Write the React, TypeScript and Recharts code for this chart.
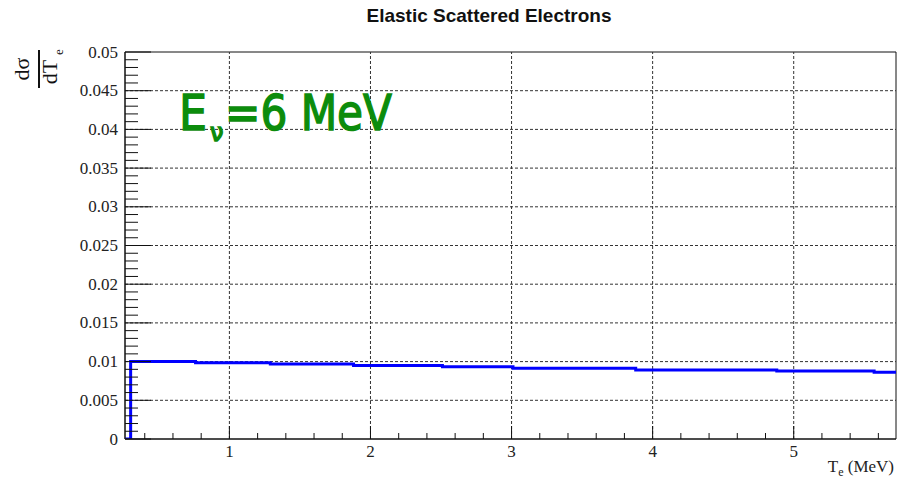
import React from 'react'
import { LineChart, Line, XAxis, YAxis, ReferenceLine, ReferenceArea } from 'recharts'

// histogram bin edges (MeV) and bin contents
const X_EDGES = [0.26, 0.3, 0.76, 1.29, 1.88, 2.51, 3.01, 3.88, 4.88, 5.57, 5.725]
const Y_LEVELS = [0, 0.01, 0.00985, 0.00968, 0.0095, 0.00932, 0.00913, 0.00891, 0.00878, 0.00862, 0.00862]

const X_MIN = 0.26
const X_MAX = 5.725
const Y_MIN = 0
const Y_MAX = 0.05

const X_MAJOR = [1, 2, 3, 4, 5]
const Y_MAJOR = [0, 0.005, 0.01, 0.015, 0.02, 0.025, 0.03, 0.035, 0.04, 0.045, 0.05]
const Y_LABELS = ['0', '0.005', '0.01', '0.015', '0.02', '0.025', '0.03', '0.035', '0.04', '0.045', '0.05']

// minor ticks: every 0.2 MeV on x, every 0.001 on y
const X_TICKS = Array.from({ length: 27 }, (_, i) => (i + 2) / 5)
const Y_TICKS = Array.from({ length: 51 }, (_, i) => i / 1000)

const data = X_EDGES.map((x, i) => ({ x, v: Y_LEVELS[i] }))

const TICK_FONT = 'Liberation Serif, serif'
const AXIS = '#111'
const GRID = '#333'
const GREEN = '#0c8c0c'

function isMajorX(v: number) {
  return X_MAJOR.some((m) => Math.abs(m - v) < 1e-6)
}

function majorYIndex(v: number) {
  return Y_MAJOR.findIndex((m) => Math.abs(m - v) < 1e-7)
}

function XTick(props: any) {
  const { x, y, payload } = props
  const major = isMajorX(payload.value)
  return (
    <g>
      <line x1={x} x2={x} y1={y} y2={y - (major ? 13 : 6)} stroke={AXIS} strokeWidth={1} />
      {major && (
        <text x={x} y={y + 18} textAnchor="middle" fontFamily={TICK_FONT} fontSize={17} fill="#222">
          {String(Math.round(payload.value))}
        </text>
      )}
    </g>
  )
}

function YTick(props: any) {
  const { x, y, payload } = props
  const idx = majorYIndex(payload.value)
  const major = idx >= 0
  return (
    <g>
      <line x1={x} x2={x + (major ? 26 : 13)} y1={y} y2={y} stroke={AXIS} strokeWidth={1} />
      {major && (
        <text x={x - 7} y={y} textAnchor="end" dominantBaseline="central" fontFamily={TICK_FONT} fontSize={17} fill="#222">
          {Y_LABELS[idx]}
        </text>
      )}
    </g>
  )
}

export default function App() {
  return (
    <div style={{ position: 'absolute', left: 0, top: 0, width: 909, height: 480, background: 'white' }}>
      <LineChart width={909} height={480} data={data} margin={{ top: 52, right: 13, left: 0, bottom: 0 }}>
        {X_MAJOR.map((v) => (
          <ReferenceLine key={'gx' + v} x={v} stroke={GRID} strokeDasharray="3 2" strokeWidth={1} />
        ))}
        {Y_MAJOR.slice(1, -1).map((v) => (
          <ReferenceLine key={'gy' + v} y={v} stroke={GRID} strokeDasharray="3 2" strokeWidth={1} />
        ))}
        <ReferenceArea x1={X_MIN} x2={X_MAX} y1={Y_MIN} y2={Y_MAX} fill="none" stroke={AXIS} strokeWidth={1} />
        <XAxis
          type="number"
          dataKey="x"
          domain={[X_MIN, X_MAX]}
          allowDataOverflow
          ticks={X_TICKS}
          interval={0}
          height={41}
          tickSize={0}
          tickMargin={0}
          tickLine={false}
          axisLine={{ stroke: AXIS }}
          tick={<XTick />}
        />
        <YAxis
          type="number"
          domain={[Y_MIN, Y_MAX]}
          allowDataOverflow
          ticks={Y_TICKS}
          interval={0}
          width={125}
          tickSize={0}
          tickMargin={0}
          tickLine={false}
          axisLine={{ stroke: AXIS }}
          tick={<YTick />}
        />
        <Line
          type="stepAfter"
          dataKey="v"
          stroke="#0000ff"
          strokeWidth={3}
          dot={false}
          isAnimationActive={false}
        />
      </LineChart>

      <svg width={909} height={480} style={{ position: 'absolute', left: 0, top: 0, pointerEvents: 'none' }}>
        <text x={489} y={22} textAnchor="middle" fontFamily="Liberation Sans, Arial, sans-serif" fontWeight="bold" fontSize={19} fill="#111">
          Elastic Scattered Electrons
        </text>

        {/* y title: dσ / dT_e, rotated */}
        <g transform="translate(39,69) rotate(-90)" fontFamily={TICK_FONT} fill="#111">
          <text x={0} y={-10} textAnchor="middle" fontSize={22}>dσ</text>
          <line x1={-19} x2={19} y1={0} y2={0} stroke="#111" strokeWidth={2} />
          <text x={-3} y={18} textAnchor="middle" fontSize={22}>dT</text>
          <text x={14} y={24} fontSize={13}>e</text>
        </g>

        <text x={894} y={472} textAnchor="end" fontFamily={TICK_FONT} fontSize={17} fill="#222">
          T<tspan fontSize={12} dy={4}>e</tspan>
          <tspan dy={-4}> (MeV)</tspan>
        </text>

        <g fontFamily="DejaVu Sans, sans-serif" fill={GREEN} stroke={GREEN} strokeWidth={1.5}>
          <text x={179} y={130} fontSize={50} textLength={28} lengthAdjust="spacingAndGlyphs">E</text>
          <text x={210} y={141} fontSize={24}>ν</text>
          <text x={225} y={130} fontSize={50} textLength={167} lengthAdjust="spacingAndGlyphs">=6 MeV</text>
        </g>
      </svg>
    </div>
  )
}
